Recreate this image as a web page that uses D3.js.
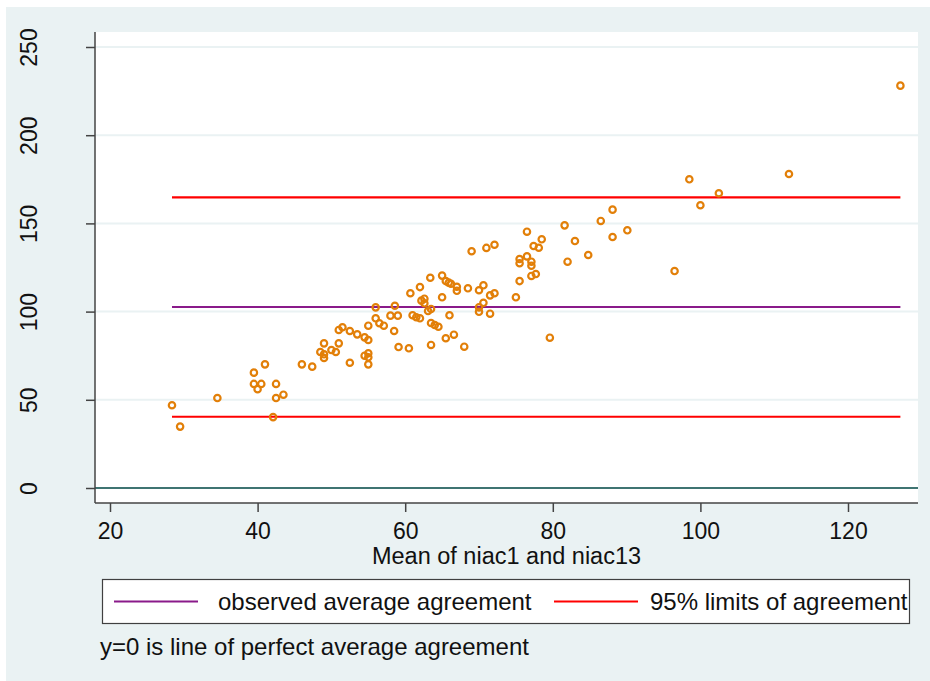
<!DOCTYPE html>
<html><head><meta charset="utf-8">
<script src="https://cdn.jsdelivr.net/npm/d3@7"></script>
<style>
html,body{margin:0;padding:0;background:#fff;}
svg text{font-family:"Liberation Sans",Arial,sans-serif;fill:#111;}
</style></head>
<body><svg id="chart" width="930" height="681"></svg>
<script>
// Mean of niac1 and niac13 (x) vs difference (y)
const meanVals = [28.4,29.5,34.55,39.5,40.5,40.0,42.5,42.5,43.5,42.1,
  39.5,41.0,46.0,47.4,48.5,49.0,49.0,49.0,50.0,50.6,51.0,51.0,51.5,52.5,52.5,53.5,54.5,55.0,54.5,55.0,55.0,55.0,55.0,
  56.0,56.0,56.5,57.1,58.6,58.0,59.0,58.5,59.1,60.5,60.7,
  61.0,61.5,62.0,62.2,62.6,62.6,63.1,63.5,63.5,64.0,64.5,63.5,66.0,65.5,66.6,68.0,
  62.0,63.4,65.0,65.5,65.9,66.2,67.0,67.0,65.0,68.5,69.0,71.0,72.1,70.0,70.6,70.6,70.0,70.0,71.5,72.1,71.5,
  75.0,75.5,75.5,76.5,77.1,77.1,75.5,77.1,77.7,77.4,78.1,78.5,76.5,79.6,82.0,83.0,84.8,
  81.6,86.5,88.1,88.1,90.1,96.5,127.1,98.5,100.0,102.5,112.0];
const diffVals = [46.9,34.8,51.0,59.0,59.0,56.0,59.0,51.0,52.9,40.2,
  65.4,70.1,70.1,68.8,77.1,82.0,75.8,73.7,78.2,77.1,82.0,89.6,91.1,71.0,89.0,87.1,85.4,83.9,75.0,76.4,74.1,70.1,92.0,
  102.4,96.2,93.4,92.0,103.3,97.7,97.7,89.0,79.9,79.2,110.4,
  97.9,96.8,96.2,106.2,107.3,104.7,100.3,101.5,93.5,92.4,91.4,81.1,97.9,84.9,86.9,80.1,
  113.9,119.2,120.4,117.3,116.4,115.8,114.1,111.8,108.1,113.2,134.2,136.1,137.9,112.1,114.9,105.0,102.4,99.9,109.2,110.4,98.8,
  108.1,129.8,127.4,131.3,128.3,126.0,117.3,120.2,121.3,137.2,136.2,141.0,145.3,85.2,128.3,140.0,132.1,
  148.9,151.4,157.8,142.3,146.1,123.0,228.1,175.0,160.3,167.1,178.0];
const meanDiff = [102.6];
const limits = [40.4, 164.8];
const perfectLine = [0];
const xTicks = [20,40,60,80,100,120];
const yTicks = [0,50,100,150,200,250];
const xTitle = "Mean of niac1 and niac13";
const legendLabels = ["observed average agreement","95% limits of agreement"];
const noteText = "y=0 is line of perfect average agreement";

const svg = d3.select("#chart");
const bg = "#eaf2f3";
svg.append("rect").attr("x",6).attr("y",7).attr("width",924).attr("height",674).attr("fill",bg);

const L=95, R=918, T=32, B=503;
svg.append("rect").attr("x",L).attr("y",T).attr("width",R-L).attr("height",B-T).attr("fill","#fff");

const x = d3.scaleLinear().domain([20,120]).range([110,848]);
const y = d3.scaleLinear().domain([0,250]).range([488,47]);

// grid
svg.append("g").selectAll("line").data(yTicks).join("line")
  .attr("x1",L).attr("x2",R).attr("y1",d=>y(d)).attr("y2",d=>y(d))
  .attr("stroke",bg).attr("stroke-width",2);

// zero line
svg.append("g").selectAll("line").data(perfectLine).join("line")
  .attr("x1",L).attr("x2",R).attr("y1",d=>y(d)).attr("y2",d=>y(d))
  .attr("stroke","#3f7472").attr("stroke-width",2.2);

const xmin = d3.min(meanVals), xmax = d3.max(meanVals);
svg.append("g").selectAll("line").data(limits).join("line")
  .attr("x1",x(xmin)).attr("x2",x(xmax)).attr("y1",d=>y(d)).attr("y2",d=>y(d))
  .attr("stroke","#ff0000").attr("stroke-width",2.2);
svg.append("g").selectAll("line").data(meanDiff).join("line")
  .attr("x1",x(xmin)).attr("x2",x(xmax)).attr("y1",d=>y(d)).attr("y2",d=>y(d))
  .attr("stroke","#8a1a8a").attr("stroke-width",2.2);

// points
svg.append("g").selectAll("circle").data(meanVals.map((m,i)=>[m,diffVals[i]])).join("circle")
  .attr("cx",d=>x(d[0])).attr("cy",d=>y(d[1])).attr("r",3.2)
  .attr("fill","none").attr("stroke","#e27f08").attr("stroke-width",2.2);

// axes
const xAxis = svg.append("g").attr("transform",`translate(0,${B})`)
  .call(d3.axisBottom(x).tickValues(xTicks).tickSize(9).tickPadding(9).tickFormat(d3.format("d")));
xAxis.select(".domain").attr("d",`M${L},0H${R}`);
const yAxis = svg.append("g").attr("transform",`translate(${L},0)`)
  .call(d3.axisLeft(y).tickValues(yTicks).tickSize(9).tickPadding(0).tickFormat(d3.format("d")));
yAxis.select(".domain").attr("d",`M0,${T}V${B}`);
[xAxis,yAxis].forEach(a=>{
  a.selectAll(".domain").attr("stroke","#444").attr("stroke-width",1.5);
  a.selectAll(".tick line").attr("stroke","#444").attr("stroke-width",1.5);
  a.selectAll("text").style("font-family",'"Liberation Sans",Arial,sans-serif').style("font-size","23px").attr("fill","#111");
});
xAxis.selectAll("text").attr("dy",null).attr("y",36);
yAxis.selectAll(".tick text").attr("x",null).attr("dy",null)
  .attr("text-anchor","middle").attr("transform","translate(-58,0) rotate(-90)").attr("y",0);

svg.append("text").attr("x",(L+R)/2).attr("y",564).attr("text-anchor","middle")
  .style("font-size","23.5px").text(xTitle);

// legend
svg.append("rect").attr("x",102.5).attr("y",579.5).attr("width",807).attr("height",44)
  .attr("fill","#fff").attr("stroke","#404040").attr("stroke-width",1.2);
const legColors = ["#8a1a8a","#ff0000"];
const legX = [114,554];
const legTextX = [218,650];
legendLabels.forEach((t,i)=>{
  svg.append("line").attr("x1",legX[i]).attr("x2",legX[i]+84).attr("y1",601.5).attr("y2",601.5)
    .attr("stroke",legColors[i]).attr("stroke-width",2.2);
  svg.append("text").attr("x",legTextX[i]).attr("y",610).style("font-size","24px").text(t);
});
svg.append("text").attr("x",100).attr("y",655).style("font-size","24px").text(noteText);
</script></body></html>
